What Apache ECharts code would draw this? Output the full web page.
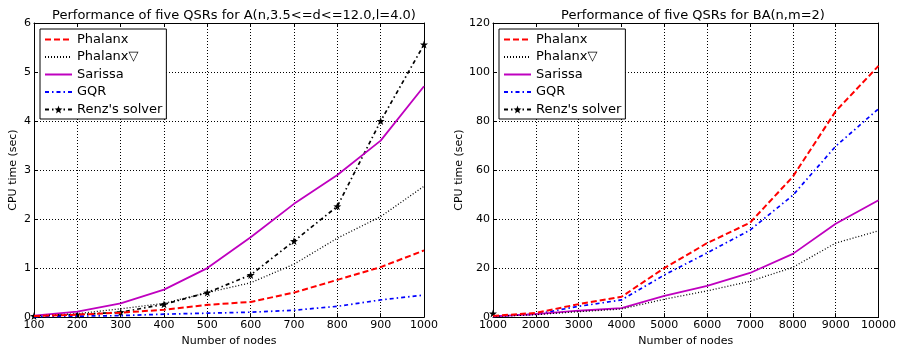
<!DOCTYPE html>
<html>
<head>
<meta charset="utf-8">
<script src="https://cdn.jsdelivr.net/npm/echarts@6/dist/echarts.min.js"></script>
<style>
  html, body { margin: 0; padding: 0; background: #fff; }
  #chart { width: 899px; height: 352px; }
</style>
</head>
<body>
<div id="chart"></div>
<script>
// left panel: A(n, 3.5<=d<=12.0, l=4.0)
const nodesA = [100, 200, 300, 400, 500, 600, 700, 800, 900, 1000];
const phalanxA = [0.02, 0.05, 0.09, 0.15, 0.25, 0.31, 0.5, 0.76, 1.02, 1.36];
const phalanxNablaA = [0.02, 0.07, 0.17, 0.28, 0.5, 0.7, 1.08, 1.61, 2.05, 2.67];
const sarissaA = [0.03, 0.11, 0.28, 0.56, 1.0, 1.63, 2.31, 2.9, 3.6, 4.71];
const gqrA = [0.01, 0.02, 0.03, 0.06, 0.08, 0.1, 0.14, 0.22, 0.35, 0.45];
const renzA = [0.02, 0.05, 0.1, 0.26, 0.5, 0.86, 1.55, 2.26, 4.0, 5.56];

// right panel: BA(n, m=2)
const nodesB = [1000, 2000, 3000, 4000, 5000, 6000, 7000, 8000, 9000, 10000];
const phalanxB = [0.5, 1.7, 5.3, 8.3, 20, 30.2, 38.5, 57.3, 84, 102.5];
const phalanxNablaB = [0.3, 1.0, 2.2, 3.3, 7.3, 10.7, 14.6, 20.3, 30.2, 35.2];
const sarissaB = [0.3, 1.2, 2.6, 3.7, 8.7, 12.7, 18, 25.8, 38.1, 47.7];
const gqrB = [0.3, 1.2, 4.4, 7, 17.2, 26.2, 35.5, 49.7, 69.7, 85];
const renzB = [1.5];

const titles = [
  "Performance of five QSRs for A(n,3.5<=d<=12.0,l=4.0)",
  "Performance of five QSRs for BA(n,m=2)"
];
const names = ["Phalanx", "Phalanx\u25BD", "Sarissa", "GQR", "Renz's solver"];

const font = "DejaVu Sans";
const star = "path://M0,-10 L2.35,-3.24 L9.51,-3.09 L3.8,1.24 L5.88,8.09 L0,4 L-5.88,8.09 L-3.8,1.24 L-9.51,-3.09 L-2.35,-3.24 Z";

function pairs(xs, ys) {
  return ys.map((y, i) => [xs[i], y]);
}

const styles = [
  { color: "#ff0000", width: 2, type: [6, 3] },
  { color: "#000000", width: 1.3, type: [1, 2] },
  { color: "#bf00bf", width: 1.8, type: "solid" },
  { color: "#0000ff", width: 1.7, type: [4, 3, 1.5, 3] },
  { color: "#000000", width: 1.7, type: [4, 3, 1.5, 3] }
];

function makeSeries(idx, data) {
  return data.map((d, i) => ({
    name: names[i],
    type: "line",
    xAxisIndex: idx * 2,
    yAxisIndex: idx * 2,
    data: d,
    symbol: i === 4 ? star : "none",
    symbolSize: 8,
    showSymbol: i === 4,
    itemStyle: { color: styles[i].color },
    lineStyle: { color: styles[i].color, width: styles[i].width, type: styles[i].type },
    clip: true,
    z: 10 - i
  }));
}

const grids = [
  { left: 34, right: 475, top: 23, bottom: 26 },
  { left: 493, right: 16, top: 23, bottom: 26 }
];

const xRanges = [
  { min: 100, max: 1000, interval: 100 },
  { min: 1000, max: 10000, interval: 1000 }
];
const yRanges = [
  { min: 0, max: 6, interval: 1 },
  { min: 0, max: 120, interval: 20 }
];

const frameTick = { show: true, inside: true, length: 4, lineStyle: { color: "#000" } };
const frameLine = { show: true, onZero: false, lineStyle: { color: "#000", width: 1 } };
const gridDots = { show: true, lineStyle: { color: "#000", type: [1, 2], width: 1 } };

const xAxes = [];
const yAxes = [];
[0, 1].forEach((g) => {
  xAxes.push({
    type: "value", gridIndex: g, ...xRanges[g],
    name: "Number of nodes", nameLocation: "middle", nameGap: 12,
    nameTextStyle: { fontFamily: font, fontSize: 11, color: "#000" },
    axisLine: frameLine, axisTick: frameTick,
    axisLabel: { fontFamily: font, fontSize: 11, color: "#000", margin: 3, formatter: (v) => String(v) },
    splitLine: gridDots
  });
  xAxes.push({
    type: "value", gridIndex: g, position: "top", ...xRanges[g],
    axisLine: frameLine, axisTick: frameTick,
    axisLabel: { show: false }, splitLine: { show: false }
  });
  yAxes.push({
    type: "value", gridIndex: g, ...yRanges[g],
    name: "CPU time (sec)", nameLocation: "middle", nameGap: g === 0 ? 15 : 26,
    nameTextStyle: { fontFamily: font, fontSize: 11, color: "#000" },
    axisLine: frameLine, axisTick: frameTick,
    axisLabel: { fontFamily: font, fontSize: 11, color: "#000", margin: 3 },
    splitLine: gridDots
  });
  yAxes.push({
    type: "value", gridIndex: g, position: "right", ...yRanges[g],
    axisLine: frameLine, axisTick: frameTick,
    axisLabel: { show: false }, splitLine: { show: false }
  });
});

const seriesA = makeSeries(0, [
  pairs(nodesA, phalanxA), pairs(nodesA, phalanxNablaA), pairs(nodesA, sarissaA),
  pairs(nodesA, gqrA), pairs(nodesA, renzA)
]);
const seriesB = makeSeries(1, [
  pairs(nodesB, phalanxB), pairs(nodesB, phalanxNablaB), pairs(nodesB, sarissaB),
  pairs(nodesB, gqrB), pairs(nodesB, renzB)
]);

// legend icons: only Renz's solver shows its star marker
const legendData = names.map((n, i) =>
  i === 4 ? { name: n } : { name: n, itemStyle: { opacity: 0 } }
);

function legendFor(left) {
  return {
    orient: "vertical",
    left: left, top: 29,
    data: legendData,
    itemWidth: 27, itemHeight: 10, itemGap: 4.5,
    padding: [4, 4, 3, 4],
    borderColor: "#000", borderWidth: 1,
    backgroundColor: "#fff",
    textStyle: { fontFamily: font, fontSize: 13, color: "#000" },
    selectedMode: false,
    z: 20
  };
}

const chart = echarts.init(document.getElementById("chart"));
chart.setOption({
  animation: false,
  backgroundColor: "#fff",
  title: [
    { text: titles[0], left: 229, top: 4, textAlign: "center",
      textStyle: { fontFamily: font, fontSize: 13, fontWeight: "normal", color: "#000" } },
    { text: titles[1], left: 688, top: 4, textAlign: "center",
      textStyle: { fontFamily: font, fontSize: 13, fontWeight: "normal", color: "#000" } }
  ],
  legend: [legendFor(40), legendFor(499)],
  grid: grids,
  xAxis: xAxes,
  yAxis: yAxes,
  series: seriesA.concat(seriesB)
});
</script>
</body>
</html>
